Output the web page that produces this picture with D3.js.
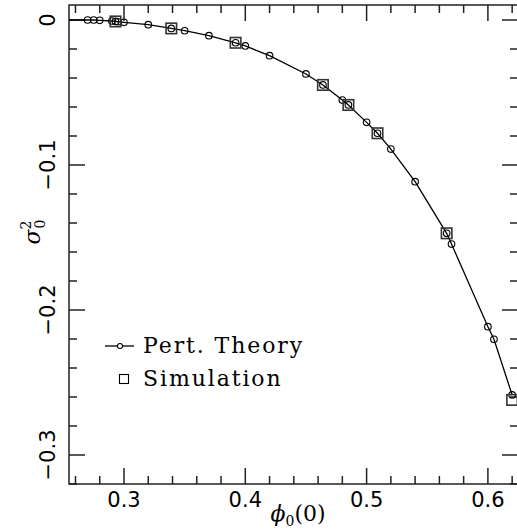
<!DOCTYPE html>
<meta charset="utf-8">
<script src="https://d3js.org/d3.v7.min.js"></script>
<style>
  body { margin: 0; background: #fff; }
  text { fill: #000; }
</style>
<div id="chart"></div>
<script>

    // perturbation theory points (phi_0(0), sigma_0^2)
    const theoryPhi = [0.270, 0.275, 0.280, 0.290, 0.293, 0.295, 0.300, 0.320, 0.339, 0.350, 0.370,
        0.392, 0.400, 0.420, 0.450, 0.464, 0.480, 0.485, 0.500, 0.509, 0.520, 0.540, 0.566, 0.570,
        0.600, 0.605, 0.620];
    const theorySigma = [0.0000, 0.0000, -0.0002, -0.0007, -0.0010, -0.0012, -0.0016, -0.0032, -0.0058,
        -0.0074, -0.0108, -0.0157, -0.0179, -0.0246, -0.0372, -0.0448, -0.0552, -0.0586, -0.0706,
        -0.0781, -0.0890, -0.1115, -0.1471, -0.1545, -0.2115, -0.2202, -0.2586];

    // simulation points
    const simPhi = [0.293, 0.339, 0.392, 0.464, 0.485, 0.509, 0.566, 0.620];
    const simSigma = [-0.0010, -0.0058, -0.0157, -0.0448, -0.0586, -0.0781, -0.1471, -0.2620];

    const xTicks = [0.3, 0.4, 0.5, 0.6];
    const yTicks = [0, -0.1, -0.2, -0.3];
    const legendLabels = ["Pert. Theory", "Simulation"];

    const W = 517, H = 529;
    const pLeft = 69, pRight = 518, pTop = 5;

    const svg = d3.select("#chart")
        .append("svg")
        .attr("width", W)
        .attr("height", H);

    // 0.1 in phi is about 121 px, 0.1 in sigma about 145 px
    const x = d3.scaleLinear()
        .domain([0.3 - (124 - pLeft) / 1213, 0.3 + (pRight - 124) / 1213])
        .range([pLeft, pRight]);
    const y = d3.scaleLinear()
        .domain([0, -0.1])
        .range([20, 165]);
    const pBottom = y(-0.32);

    const theory = theoryPhi.map((p, i) => ({x: p, y: theorySigma[i]}));
    const sim = simPhi.map((p, i) => ({x: p, y: simSigma[i]}));

    // clip for the plot area
    svg.append("clipPath").attr("id", "clip")
        .append("rect")
        .attr("x", pLeft).attr("y", pTop)
        .attr("width", pRight - pLeft).attr("height", pBottom - pTop);

    const stroke = "#222";

    // frame
    svg.append("rect")
        .attr("x", pLeft).attr("y", pTop)
        .attr("width", pRight - pLeft).attr("height", pBottom - pTop)
        .attr("fill", "none")
        .attr("stroke", stroke)
        .attr("stroke-width", 1.5);

    // ticks, pointing inward on all four sides
    const xMinor = d3.range(0.26, 0.625, 0.02);
    const yMinor = d3.range(-0.32, 0.001, 0.02);
    const isMajor = (v, step) => Math.abs(v / step - Math.round(v / step)) < 1e-6;

    const ticks = svg.append("g").attr("stroke", stroke).attr("stroke-width", 1.5);
    xMinor.forEach(v => {
        const len = isMajor(v, 0.1) ? 16 : 8;
        ticks.append("line").attr("x1", x(v)).attr("x2", x(v)).attr("y1", pBottom).attr("y2", pBottom - len);
        ticks.append("line").attr("x1", x(v)).attr("x2", x(v)).attr("y1", pTop).attr("y2", pTop + len);
    });
    yMinor.forEach(v => {
        const len = isMajor(v, 0.1) ? 16 : 8;
        ticks.append("line").attr("y1", y(v)).attr("y2", y(v)).attr("x1", pLeft).attr("x2", pLeft + len);
        ticks.append("line").attr("y1", y(v)).attr("y2", y(v)).attr("x1", pRight).attr("x2", pRight - len);
    });

    // tick labels
    const fmt = v => (v < 0 ? "\u2212" : "") + (v === 0 ? "0" : Math.abs(v).toFixed(1));
    svg.append("g").selectAll("text")
        .data(xTicks)
        .join("text")
        .attr("x", d => x(d))
        .attr("y", pBottom + 23)
        .attr("text-anchor", "middle")
        .style("font", "21px 'DejaVu Sans'")
        .text(d => fmt(d));

    svg.append("g").selectAll("text")
        .data(yTicks)
        .join("text")
        .attr("transform", d => `translate(55,${y(d)}) rotate(-90)`)
        .attr("text-anchor", "middle")
        .style("font", "21px 'DejaVu Sans'")
        .text(d => fmt(d));

    // axis titles
    const xt = svg.append("text")
        .attr("x", 298).attr("y", 521)
        .attr("text-anchor", "middle")
        .style("font", "22px 'DejaVu Serif'");
    xt.append("tspan").style("font-style", "italic").text("\u03d5");
    xt.append("tspan").attr("dy", 5).style("font-size", "14px").text("0");
    xt.append("tspan").attr("dy", -5).text("(0)");

    const yt = svg.append("text")
        .attr("transform", "translate(40,232) rotate(-90)")
        .attr("text-anchor", "middle")
        .style("font", "22px 'DejaVu Serif'");
    yt.append("tspan").style("font-style", "italic").text("\u03c3");
    yt.append("tspan").attr("dy", -9).style("font-size", "14px").text("2");
    yt.append("tspan").attr("dx", -8).attr("dy", 14).style("font-size", "14px").text("0");

    // data
    const plot = svg.append("g").attr("clip-path", "url(#clip)");

    const line = d3.line().x(d => x(d.x)).y(d => y(d.y));
    plot.append("path")
        .datum([{x: x.domain()[0], y: 0}].concat(theory))
        .attr("d", line)
        .attr("fill", "none")
        .attr("stroke", "#000")
        .attr("stroke-width", 1.3);

    plot.selectAll("circle.th")
        .data(theory)
        .join("circle")
        .attr("class", "th")
        .attr("cx", d => x(d.x))
        .attr("cy", d => y(d.y))
        .attr("r", 3.3)
        .attr("fill", "none")
        .attr("stroke", "#000")
        .attr("stroke-width", 1.1);

    const sq = 10.5;
    plot.selectAll("rect.sim")
        .data(sim)
        .join("rect")
        .attr("class", "sim")
        .attr("x", d => x(d.x) - sq / 2)
        .attr("y", d => y(d.y) - sq / 2)
        .attr("width", sq)
        .attr("height", sq)
        .attr("fill", "none")
        .attr("stroke", "#333")
        .attr("stroke-width", 1.6);

    // legend
    const lg = svg.append("g");
    lg.append("line").attr("x1", 105).attr("x2", 134).attr("y1", 346).attr("y2", 346)
        .attr("stroke", "#000").attr("stroke-width", 1.3);
    lg.append("circle").attr("cx", 120).attr("cy", 346).attr("r", 2.5)
        .attr("fill", "#fff").attr("stroke", "#000").attr("stroke-width", 1.1);
    lg.append("rect").attr("x", 119.5).attr("y", 374.5).attr("width", 9).attr("height", 9)
        .attr("fill", "none").attr("stroke", "#000").attr("stroke-width", 1.1);
    lg.selectAll("text")
        .data(legendLabels)
        .join("text")
        .attr("x", 143)
        .attr("y", (d, i) => 353 + i * 33)
        .style("font", "22px 'DejaVu Serif'")
        .style("letter-spacing", "1.9px")
        .text(d => d);

</script>
